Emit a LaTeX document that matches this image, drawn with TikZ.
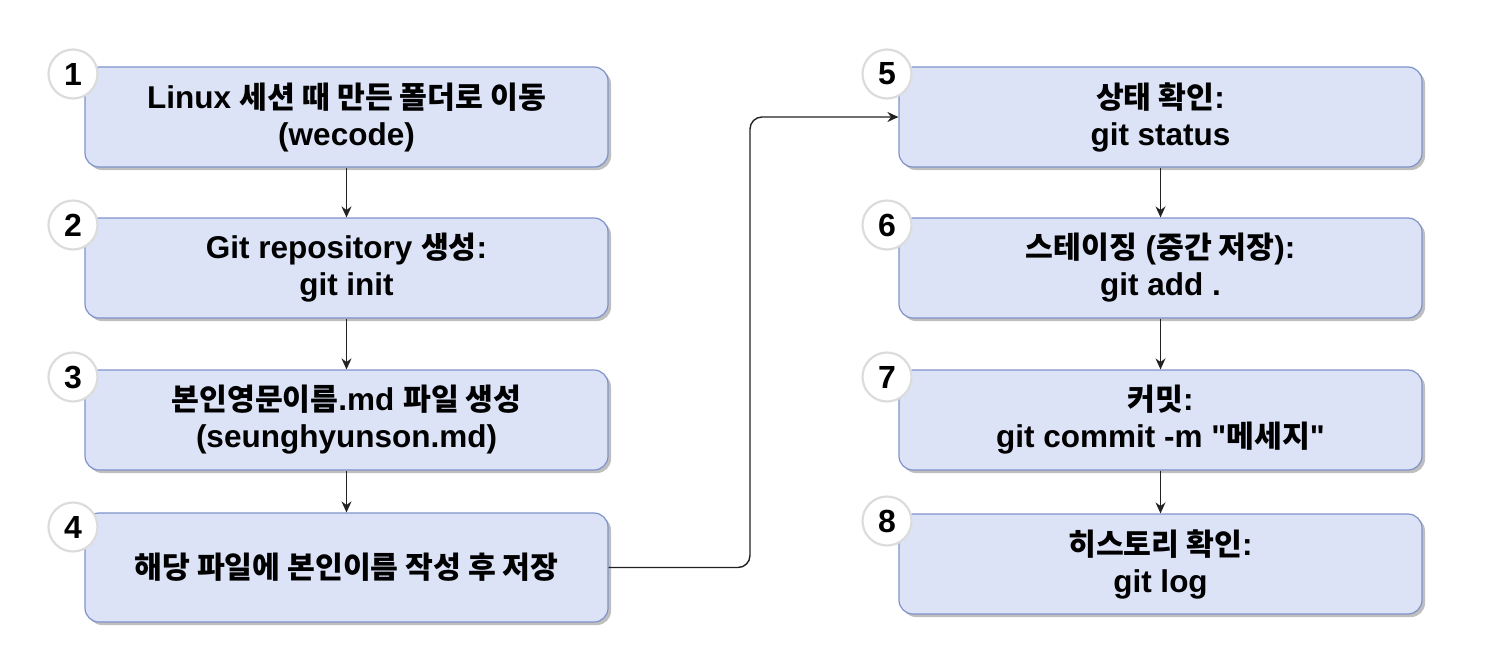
\documentclass[tikz,border=0pt]{standalone}
\usepackage{fontspec}
\setmainfont{Liberation Sans}
\newfontfamily\kr{Noto Sans CJK KR}[Scale=0.96]
\newfontfamily\qf{Liberation Sans}[Ligatures=TeXOff]
\usetikzlibrary{arrows.meta,shadows}
\definecolor{boxfill}{HTML}{DCE3F7}
\definecolor{boxdraw}{HTML}{7F93C9}
\definecolor{circdraw}{HTML}{DCDCDC}
\definecolor{linecol}{HTML}{222222}
\newcommand{\dq}{{\qf\bfseries"}}
\tikzset{
  stepbox/.style={draw=boxdraw, fill=boxfill, line width=1.2pt, rounded corners=14pt,
    minimum width=523pt, inner sep=0pt, align=center,
    font=\fontsize{31.5}{37}\selectfont\bfseries,
    drop shadow={shadow xshift=3pt, shadow yshift=-3pt, fill=black, opacity=0.25}},
  numcirc/.style={circle, draw=circdraw, fill=white, line width=2.2pt, minimum size=49pt, inner sep=0pt,
    font=\fontsize{32}{33}\selectfont\bfseries},
  flow/.style={draw=linecol, line width=1.4pt, -{Stealth[length=11pt,width=10pt]}}
}
\begin{document}
\begin{tikzpicture}[x=1pt,y=-1pt]
\useasboundingbox (0,0) rectangle (1494,646);
% left column
\node[stepbox, minimum height=100pt] (b1) at (346.5,117) {Linux {\kr 세션 때 만든 폴더로 이동}\\(wecode)};
\node[stepbox, minimum height=100pt] (b2) at (346.5,268) {Git repository {\kr 생성}:\\git init};
\node[stepbox, minimum height=100pt] (b3) at (346.5,420) {{\kr 본인영문이름}.md {\kr 파일 생성}\\(seunghyunson.md)};
\node[stepbox, minimum height=109pt] (b4) at (346.5,567.5) {{\kr 해당 파일에 본인이름 작성 후 저장}};
% right column
\node[stepbox, minimum height=100pt] (b5) at (1160.5,117) {{\kr 상태 확인}:\\git status};
\node[stepbox, minimum height=100pt] (b6) at (1160.5,268) {{\kr 스테이징} ({\kr 중간 저장}):\\git add .};
\node[stepbox, minimum height=100pt] (b7) at (1160.5,420) {{\kr 커밋}:\\git commit -m \dq{\kr 메세지}\dq};
\node[stepbox, minimum height=100pt] (b8) at (1160.5,564) {{\kr 히스토리 확인}:\\git log};
% number circles
\node[numcirc] (n1) at (73,74) {1};
\node[numcirc] (n2) at (73,225) {2};
\node[numcirc] (n3) at (73,377) {3};
\node[numcirc] (n4) at (73,527) {4};
\node[numcirc] (n5) at (887,74) {5};
\node[numcirc] (n6) at (887,225) {6};
\node[numcirc] (n7) at (887,377) {7};
\node[numcirc] (n8) at (887,521) {8};
% connectors
\draw[flow] (b1.south) -- (b2.north);
\draw[flow] (b2.south) -- (b3.north);
\draw[flow] (b3.south) -- (b4.north);
\draw[flow] (b5.south) -- (b6.north);
\draw[flow] (b6.south) -- (b7.north);
\draw[flow] (b7.south) -- (b8.north);
\coordinate (c1) at (750,567.5);
\coordinate (c2) at (750,117);
\draw[flow, rounded corners=12pt] (b4.east) -- (c1) -- (c2) -- (b5.west);
\end{tikzpicture}
\end{document}
